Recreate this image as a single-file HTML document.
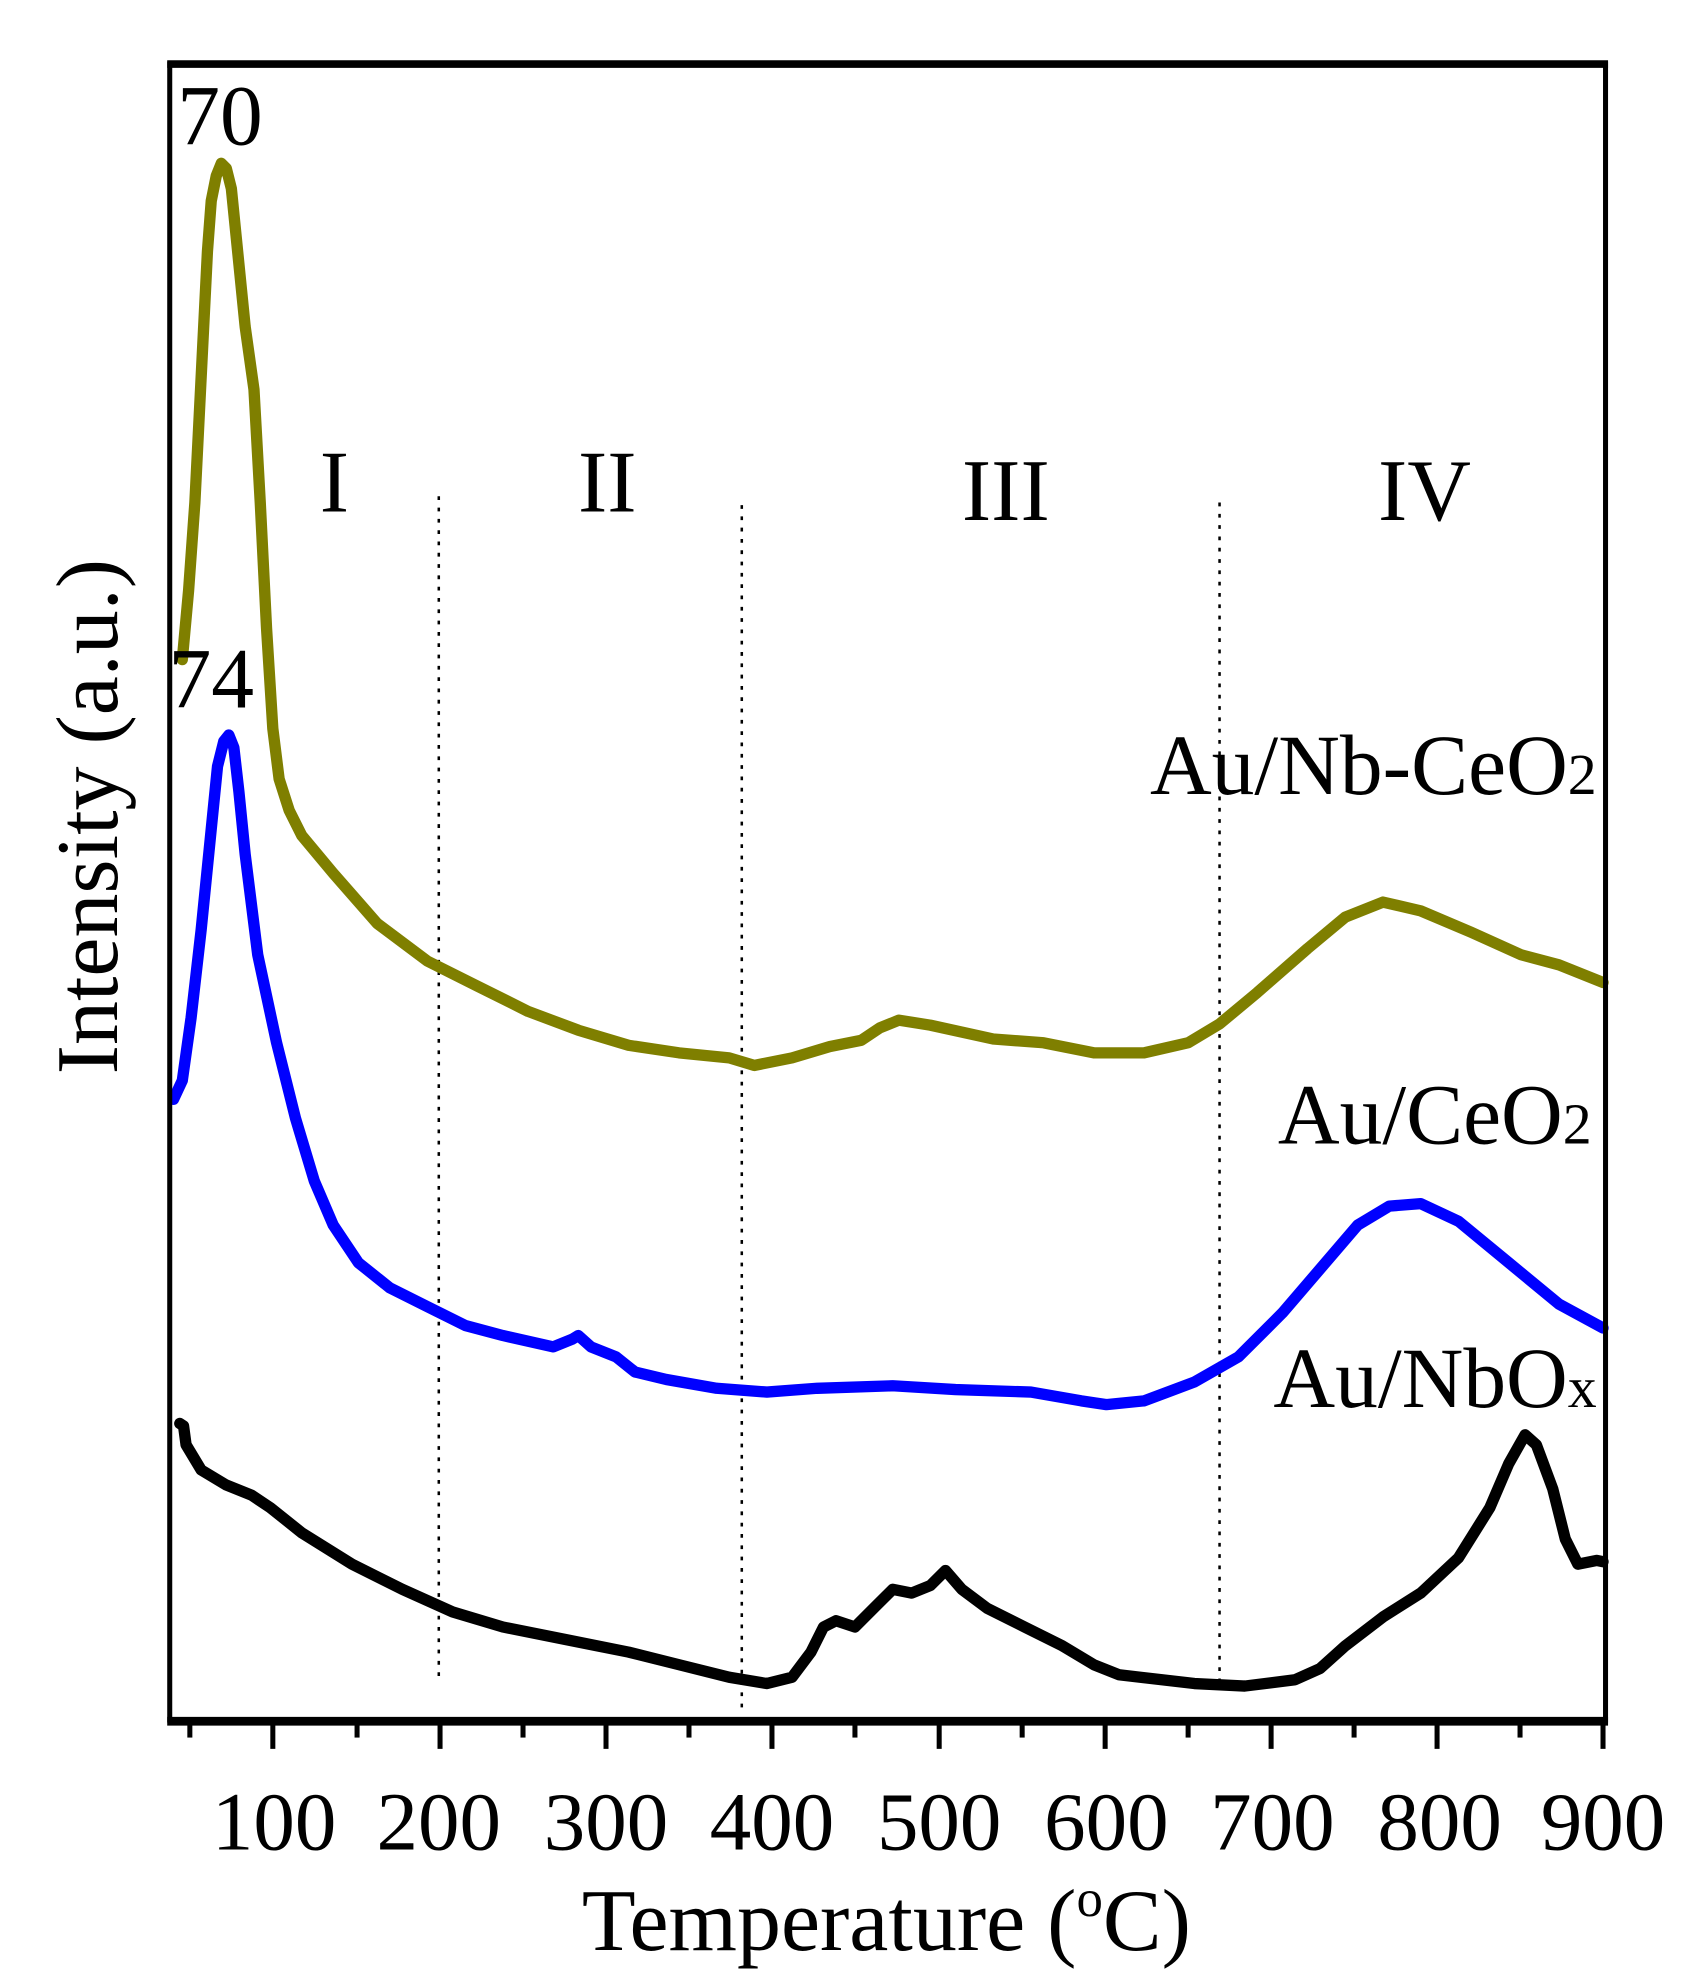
<!DOCTYPE html>
<html><head><meta charset="utf-8"><style>
html,body{margin:0;padding:0;background:#fff;}
svg{display:block;}
text{font-family:"Liberation Serif",serif;fill:#000;}
</style></head><body>
<svg width="1686" height="1970" viewBox="0 0 1341 1568" preserveAspectRatio="none" xmlns="http://www.w3.org/2000/svg">
<rect width="1341" height="1568" fill="#fff"/>
<g stroke="#000" stroke-width="2" stroke-dasharray="3,6">
<line x1="349" y1="395" x2="349" y2="1340"/>
<line x1="590" y1="402" x2="590" y2="1360"/>
<line x1="970" y1="400" x2="970" y2="1340"/>
</g>
<g fill="none" stroke-width="9" stroke-linejoin="round" stroke-linecap="round">
<polyline stroke="#7f7f00" points="145,525 150,470 155,400 160,300 165,200 168,160 172,140 176,130 180,134 184,150 188,190 195,260 202,310 207,400 212,500 217,580 222,620 230,645 240,665 265,695 300,735 340,765 380,785 420,805 460,820 500,832 540,838 580,842 600,848 630,842 660,833 685,828 700,818 715,812 740,816 790,827 830,830 870,838 910,838 945,830 970,815 1000,790 1040,755 1070,730 1100,718 1130,725 1170,742 1210,760 1240,768 1275,782"/>
<polyline stroke="#0000ff" points="138,875 145,860 152,810 160,740 168,660 173,610 178,590 182,585 186,595 190,630 195,680 205,760 220,830 235,890 250,940 265,975 285,1005 310,1025 340,1040 370,1055 400,1063 440,1072 455,1066 460,1063 470,1072 490,1080 505,1092 530,1098 570,1105 610,1108 650,1105 710,1103 760,1106 820,1108 860,1115 880,1118 910,1115 950,1100 985,1080 1020,1045 1050,1010 1080,975 1105,960 1130,958 1160,972 1200,1005 1240,1038 1275,1057"/>
<polyline stroke="#000" points="143,1133 146,1135 148,1150 160,1170 180,1182 200,1190 215,1200 240,1220 280,1245 320,1265 360,1283 400,1295 450,1305 500,1315 540,1325 580,1335 610,1340 630,1335 645,1315 655,1295 665,1290 680,1295 695,1280 710,1265 725,1268 740,1262 752,1250 765,1265 785,1280 815,1295 845,1310 870,1325 890,1333 950,1340 990,1342 1030,1337 1050,1328 1070,1310 1100,1287 1130,1268 1160,1240 1185,1200 1200,1165 1213,1142 1222,1150 1235,1185 1245,1225 1255,1245 1270,1242 1275,1243"/>
</g>
<rect x="135" y="51" width="1142" height="1318" fill="none" stroke="#000" stroke-width="4"/>
<line x1="133" y1="1370" x2="1279" y2="1370" stroke="#000" stroke-width="7"/>
<line x1="133" y1="51" x2="1279" y2="51" stroke="#000" stroke-width="6"/>
<g stroke="#000" stroke-width="4">
<line x1="151" y1="1369" x2="151" y2="1383"/>
<line x1="217" y1="1369" x2="217" y2="1392"/>
<line x1="284" y1="1369" x2="284" y2="1383"/>
<line x1="350" y1="1369" x2="350" y2="1392"/>
<line x1="416" y1="1369" x2="416" y2="1383"/>
<line x1="482" y1="1369" x2="482" y2="1392"/>
<line x1="548" y1="1369" x2="548" y2="1383"/>
<line x1="614" y1="1369" x2="614" y2="1392"/>
<line x1="680" y1="1369" x2="680" y2="1383"/>
<line x1="747" y1="1369" x2="747" y2="1392"/>
<line x1="813" y1="1369" x2="813" y2="1383"/>
<line x1="879" y1="1369" x2="879" y2="1392"/>
<line x1="945" y1="1369" x2="945" y2="1383"/>
<line x1="1011" y1="1369" x2="1011" y2="1392"/>
<line x1="1077" y1="1369" x2="1077" y2="1383"/>
<line x1="1143" y1="1369" x2="1143" y2="1392"/>
<line x1="1209" y1="1369" x2="1209" y2="1383"/>
<line x1="1275" y1="1369" x2="1275" y2="1392"/>
</g>
<g font-size="66" text-anchor="middle">
<text x="218" y="1472">100</text><text x="349" y="1472">200</text><text x="482" y="1472">300</text>
<text x="614" y="1472">400</text><text x="747" y="1472">500</text><text x="880" y="1472">600</text>
<text x="1012" y="1472">700</text><text x="1145" y="1472">800</text><text x="1275" y="1472">900</text>
</g>
<text x="705" y="1552" font-size="70" text-anchor="middle">Temperature (<tspan font-size="42" dy="-27">o</tspan><tspan dy="27">C)</tspan></text>
<text transform="translate(93,650) rotate(-90)" font-size="70" text-anchor="middle">Intensity (a.u.)</text>
<g font-size="70" text-anchor="middle">
<text x="266" y="407">I</text><text x="483" y="407">II</text><text x="800" y="414">III</text><text x="1133" y="414">IV</text>
</g>
<text x="175" y="115" font-size="68" text-anchor="middle">70</text>
<text x="168" y="563" font-size="68" text-anchor="middle">74</text>
<g font-size="68" text-anchor="end">
<text x="1270" y="632">Au/Nb-CeO<tspan font-size="46">2</tspan></text>
<text x="1266" y="910">Au/CeO<tspan font-size="46">2</tspan></text>
<text x="1270" y="1120">Au/NbO<tspan font-size="46">x</tspan></text>
</g>
</svg>
</body></html>
